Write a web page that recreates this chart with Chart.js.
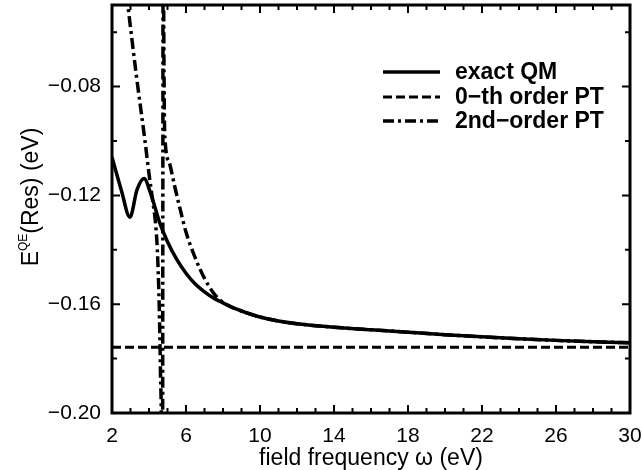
<!DOCTYPE html>
<html>
<head>
<meta charset="utf-8">
<script src="https://cdn.jsdelivr.net/npm/chart.js@4"></script>
<style>
  html, body { margin: 0; padding: 0; background: #fff; }
  #wrap { width: 642px; height: 470px; }
</style>
</head>
<body>
<div id="wrap"><canvas id="resChart" width="642" height="470"></canvas></div>
<script>
// exact QM (solid)
const exactX = [2.0, 2.5, 2.97, 3.35, 3.73, 4.1, 4.59, 5.0, 5.5, 6.0, 6.5, 7.0, 7.5, 8.0, 8.5, 9.0, 10, 11, 12, 14, 16, 18, 20, 22, 24, 26, 28, 30]
const exactY = [-0.106, -0.118, -0.128, -0.118, -0.1138, -0.1195, -0.1303, -0.1370, -0.1435, -0.1486, -0.1526, -0.1555, -0.1578, -0.1595, -0.1612, -0.1625, -0.1647, -0.1662, -0.1672, -0.1685, -0.1694, -0.1703, -0.1712, -0.1720, -0.1727, -0.1733, -0.1738, -0.1742]

// 0-th order PT (dashed)
const pt0X = [2, 30]
const pt0Y = [-0.1758, -0.1758]

// 2nd-order PT (dash-dot), pole near 4.75 eV
const pt2X = [2.5, 2.86, 3.3, 3.78, 4.0, 4.2, 4.35, 4.45, 4.55, 4.62, 4.68, 4.72, 4.77, 4.80, 4.83, 4.87, 5.1, 5.4, 5.7, 6.0, 6.5, 7.0, 7.5, 8.0, 8.5, 9.0, 10, 11, 12, 14, 16, 18, 20, 22, 24, 26, 28, 30]
const pt2Y = [-0.030, -0.0503, -0.075, -0.0998, -0.112, -0.122, -0.130, -0.140, -0.160, -0.185, -0.215, -0.300, 0.0, -0.06, -0.09, -0.100, -0.108, -0.117, -0.1255, -0.1335, -0.1430, -0.1505, -0.1560, -0.1593, -0.1612, -0.1625, -0.1647, -0.1662, -0.1672, -0.1685, -0.1694, -0.1703, -0.1712, -0.1720, -0.1727, -0.1733, -0.1738, -0.1742]

const xMajorTicks = [2, 6, 10, 14, 18, 22, 26, 30]
const xMinorTicks = [3, 4, 5, 7, 8, 9, 11, 12, 13, 15, 16, 17, 19, 20, 21, 23, 24, 25, 27, 28, 29]
const yMajorTicks = [-0.20, -0.16, -0.12, -0.08]
const yMinorTicks = [-0.18, -0.14, -0.10, -0.06]

const legendLabels = ['exact QM', '0\u2212th order PT', '2nd\u2212order PT']
const xTitle = 'field frequency \u03c9 (eV)'

const toPoints = (xs, ys) => xs.map((x, i) => ({ x: x, y: ys[i] }))

const FONT = "'Liberation Sans', Arial, Helvetica, sans-serif"

// frame, inward ticks on all four sides, tick labels and axis titles
const framePlugin = {
    id: 'frame',
    afterDatasetsDraw(chart) {
        const { ctx, chartArea: a, scales } = chart
        ctx.save()
        ctx.strokeStyle = '#000'
        ctx.lineWidth = 2
        const tick = (list, len, horiz) => {
            list.forEach(v => {
                ctx.beginPath()
                if (horiz) {
                    const px = scales.x.getPixelForValue(v)
                    ctx.moveTo(px, a.bottom); ctx.lineTo(px, a.bottom - len)
                    ctx.moveTo(px, a.top); ctx.lineTo(px, a.top + len)
                } else {
                    const py = scales.y.getPixelForValue(v)
                    ctx.moveTo(a.left, py); ctx.lineTo(a.left + len, py)
                    ctx.moveTo(a.right, py); ctx.lineTo(a.right - len, py)
                }
                ctx.stroke()
            })
        }
        tick(xMajorTicks, 8, true)
        tick(xMinorTicks, 5, true)
        tick(yMajorTicks, 8, false)
        tick(yMinorTicks, 5, false)
        ctx.lineWidth = 3
        ctx.strokeRect(a.left, a.top, a.right - a.left, a.bottom - a.top)

        // tick labels
        ctx.fillStyle = '#000'
        ctx.font = '21px ' + FONT
        ctx.textAlign = 'center'
        ctx.textBaseline = 'middle'
        xMajorTicks.forEach(v => ctx.fillText(String(v), scales.x.getPixelForValue(v), a.bottom + 23))
        ctx.textAlign = 'right'
        yMajorTicks.forEach(v => ctx.fillText('\u2212' + Math.abs(v).toFixed(2), a.left - 11, scales.y.getPixelForValue(v)))

        // x title
        ctx.textAlign = 'center'
        ctx.font = '23px ' + FONT
        ctx.fillText(xTitle, (a.left + a.right) / 2, a.bottom + 46)

        // y title with superscript
        ctx.translate(32, 197)
        ctx.rotate(-Math.PI / 2)
        ctx.textAlign = 'left'
        const big = '23px ' + FONT, small = '12px ' + FONT
        ctx.font = big
        const wE = ctx.measureText('E').width
        const wRest = ctx.measureText('(Res) (eV)').width
        ctx.font = small
        const wSup = ctx.measureText('QE').width
        const x0 = -(wE + wSup + wRest) / 2
        ctx.font = big
        ctx.fillText('E', x0, 0)
        ctx.font = small
        ctx.fillText('QE', x0 + wE, -8)
        ctx.font = big
        ctx.fillText('(Res) (eV)', x0 + wE + wSup, 0)
        ctx.restore()
    }
}

// legend drawn in the upper right of the plot
const legendPlugin = {
    id: 'sideLegend',
    afterDraw(chart) {
        const { ctx } = chart
        const rows = [72, 97, 121]
        ctx.save()
        chart.data.datasets.forEach((ds, i) => {
            ctx.beginPath()
            ctx.strokeStyle = '#000'
            ctx.lineWidth = ds.borderWidth
            ctx.setLineDash(ds.borderDash || [])
            ctx.moveTo(383, rows[i]); ctx.lineTo(440, rows[i])
            ctx.stroke()
            ctx.setLineDash([])
            ctx.fillStyle = '#000'
            ctx.font = 'bold 23px ' + FONT
            ctx.textBaseline = 'middle'
            ctx.fillText(legendLabels[i], 455, rows[i] + 1)
        })
        ctx.restore()
    }
}

new Chart(document.getElementById('resChart'), {
    type: 'line',
    data: {
        datasets: [
            { label: legendLabels[0], data: toPoints(exactX, exactY), borderColor: '#000', borderWidth: 3.5, pointRadius: 0, cubicInterpolationMode: 'monotone' },
            { label: legendLabels[1], data: toPoints(pt0X, pt0Y), borderColor: '#000', borderWidth: 3, borderDash: [9, 4], pointRadius: 0 },
            { label: legendLabels[2], data: toPoints(pt2X, pt2Y), borderColor: '#000', borderWidth: 3.5, borderDash: [11, 4, 3, 4], pointRadius: 0, cubicInterpolationMode: 'monotone' }
        ]
    },
    options: {
        responsive: false,
        animation: false,
        layout: { padding: { top: 5, right: 12, left: 0, bottom: 0 } },
        plugins: { legend: { display: false }, tooltip: { enabled: false } },
        scales: {
            x: {
                type: 'linear', min: 2, max: 30,
                afterBuildTicks: (s) => { s.ticks = xMajorTicks.map(v => ({ value: v })) },
                afterFit: (s) => { s.height = 57 },
                grid: { display: false },
                border: { display: false },
                ticks: { display: false }
            },
            y: {
                type: 'linear', min: -0.20, max: -0.05,
                afterBuildTicks: (s) => { s.ticks = yMajorTicks.map(v => ({ value: v })) },
                afterFit: (s) => { s.width = 112 },
                grid: { display: false },
                border: { display: false },
                ticks: { display: false }
            }
        }
    },
    plugins: [framePlugin, legendPlugin]
})
</script>
</body>
</html>
